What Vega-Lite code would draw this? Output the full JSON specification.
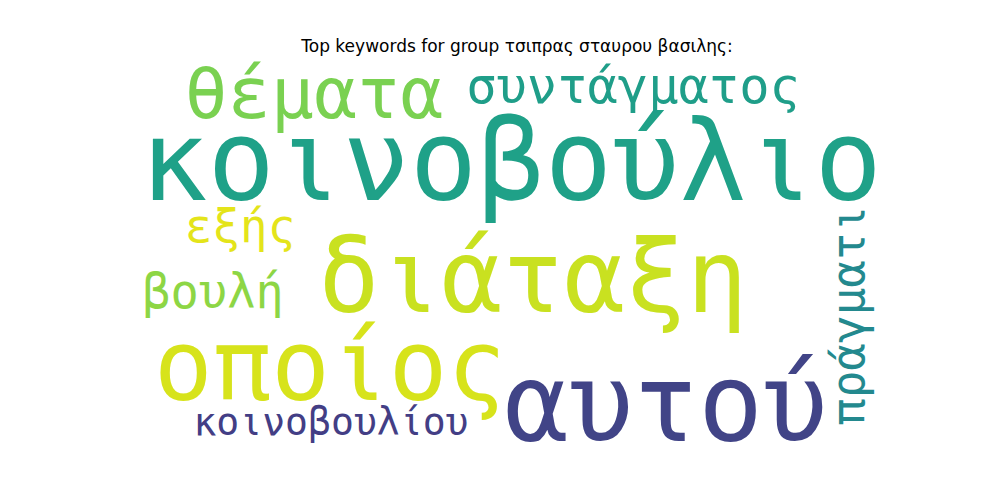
{
  "$schema": "https://vega.github.io/schema/vega-lite/v6.json",
  "width": 1000,
  "height": 500,
  "autosize": "none",
  "padding": 0,
  "background": "white",
  "title": {
    "text": "Top keywords for group τσιπρας σταυρου βασιλης:",
    "font": "DejaVu Sans",
    "fontSize": 17,
    "fontWeight": "normal",
    "color": "black",
    "anchor": "middle",
    "baseline": "alphabetic",
    "offset": -69,
    "dx": 17
  },
  "config": {"view": {"stroke": null}},
  "data": {
    "values": [
      {"word": "κοινοβούλιο", "weight": 1.0, "tone": 0.57, "vertical": false, "cx": 199.2, "cy": 74.3},
      {"word": "αυτού", "weight": 0.96, "tone": 0.2, "vertical": false, "cx": 279.2, "cy": 198.2},
      {"word": "διάταξη", "weight": 0.91, "tone": 0.92, "vertical": false, "cx": 210.6, "cy": 132.1},
      {"word": "οποίος", "weight": 0.87, "tone": 0.94, "vertical": false, "cx": 105.8, "cy": 177.5},
      {"word": "θέματα", "weight": 0.64, "tone": 0.8, "vertical": false, "cx": 97.5, "cy": 32},
      {"word": "συντάγματος", "weight": 0.45, "tone": 0.56, "vertical": false, "cx": 262.2, "cy": 24.3},
      {"word": "βουλή", "weight": 0.42, "tone": 0.83, "vertical": false, "cx": 45.4, "cy": 130},
      {"word": "πράγματι", "weight": 0.41, "tone": 0.47, "vertical": true, "cx": 381.4, "cy": 133.7},
      {"word": "εξής", "weight": 0.41, "tone": 0.96, "vertical": false, "cx": 59.4, "cy": 96},
      {"word": "κοινοβουλίου", "weight": 0.34, "tone": 0.18, "vertical": false, "cx": 106.3, "cy": 195.6}
    ]
  },
  "mark": {
    "type": "text",
    "font": "DejaVu Sans Mono",
    "align": "center",
    "baseline": "alphabetic"
  },
  "encoding": {
    "x": {
      "field": "cx",
      "type": "quantitative",
      "axis": null,
      "scale": {"domain": [0, 400], "range": [125, 900], "nice": false, "zero": false}
    },
    "y": {
      "field": "cy",
      "type": "quantitative",
      "axis": null,
      "scale": {"domain": [0, 200], "range": [56, 444], "nice": false, "zero": false}
    },
    "text": {"field": "word", "type": "nominal"},
    "size": {
      "field": "weight",
      "type": "quantitative",
      "legend": null,
      "scale": {"domain": [0, 1], "range": [0, 112], "zero": true}
    },
    "color": {
      "field": "tone",
      "type": "quantitative",
      "legend": null,
      "scale": {"scheme": "viridis", "domain": [0, 1]}
    },
    "angle": {
      "field": "vertical",
      "type": "nominal",
      "legend": null,
      "scale": {"domain": [false, true], "range": [0, 270]}
    }
  }
}
